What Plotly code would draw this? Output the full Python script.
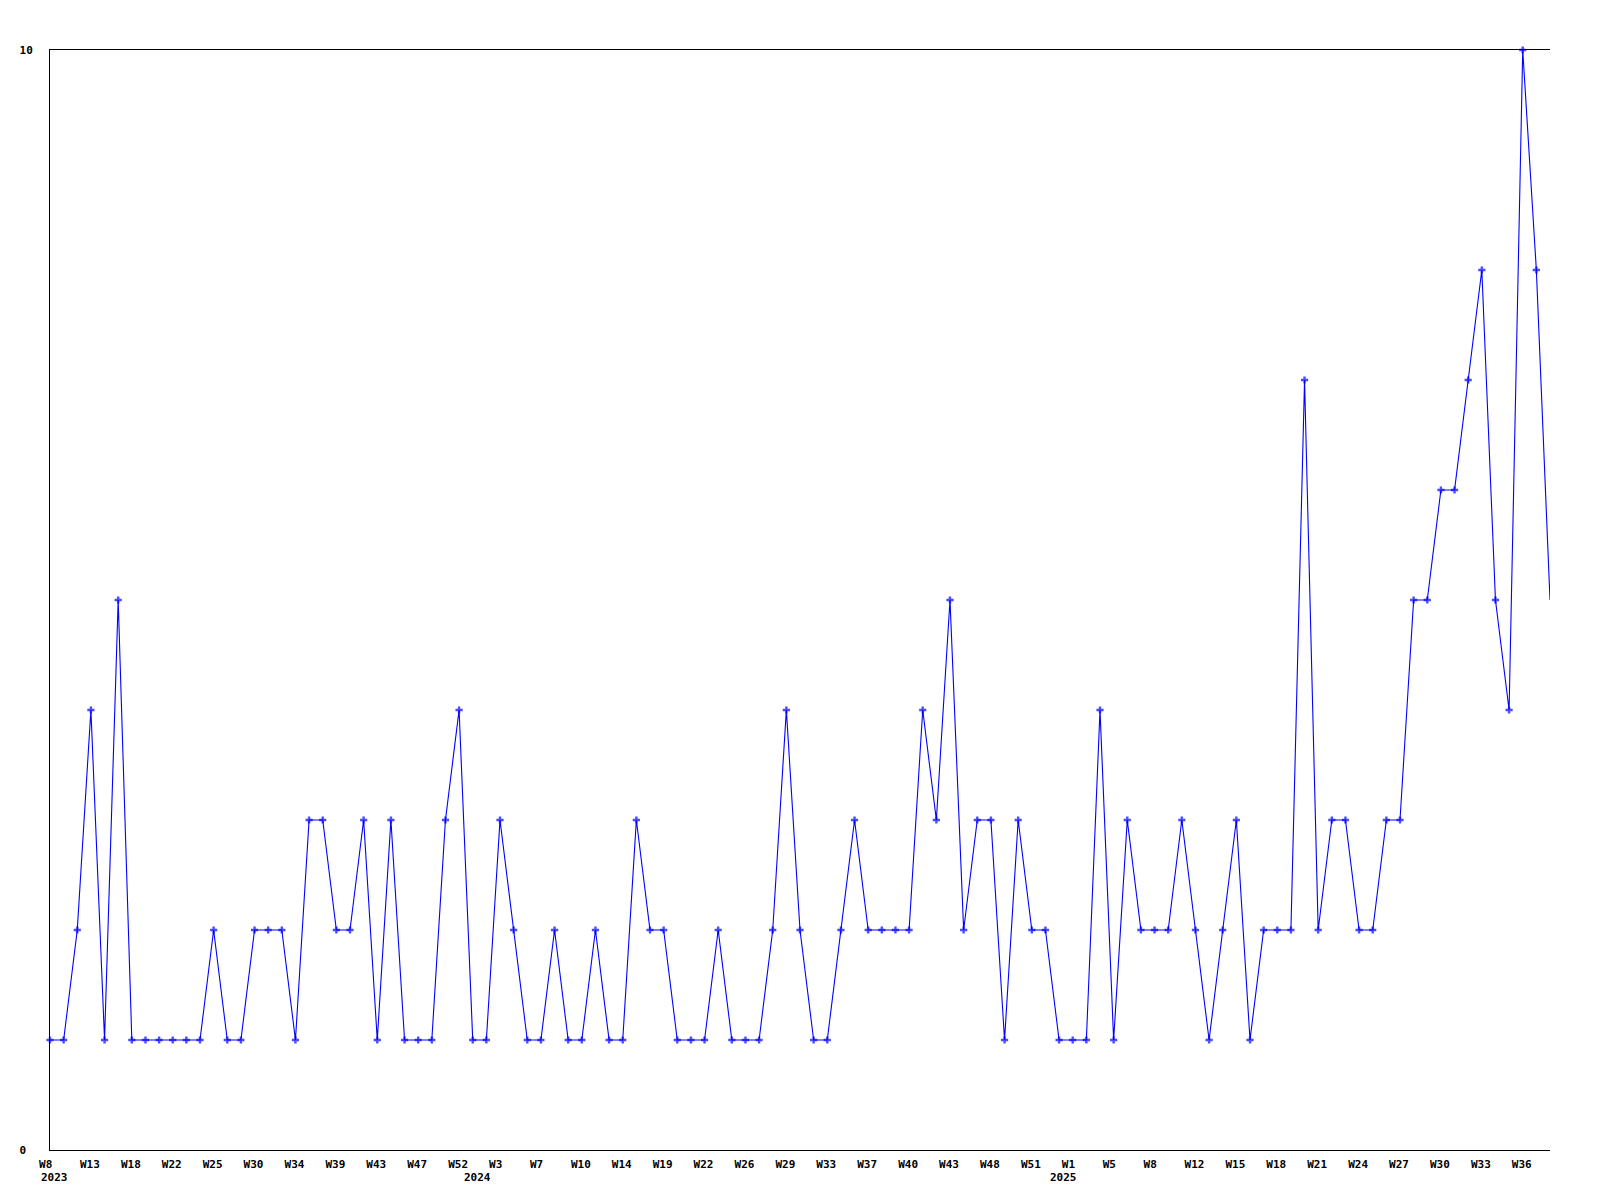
import plotly.graph_objects as go

# weekly counts, one per point (2023 W8 .. 2025 W38)
values = [1, 1, 2, 4, 1, 5, 1, 1, 1, 1, 1, 1, 2, 1, 1, 2, 2, 2, 1, 3, 3, 2, 2, 3,
          1, 3, 1, 1, 1, 3, 4, 1, 1, 3, 2, 1,
          1, 2, 1, 1, 2, 1, 1, 3, 2, 2, 1, 1, 1, 2, 1, 1, 1, 2, 4, 2, 1, 1, 2, 3,
          2, 2, 2, 2, 4, 3, 5, 2, 3, 3, 1, 3, 2, 2, 1,
          1, 1, 4, 1, 3, 2, 2, 2, 3, 2, 1, 2, 3, 1, 2, 2, 2, 7, 2, 3, 3, 2, 2, 3,
          3, 5, 5, 6, 6, 7, 8, 5, 4, 10, 8, 5]

week_labels = ["W8", "W13", "W18", "W22", "W25", "W30", "W34", "W39", "W43", "W47",
               "W52", "W3", "W7", "W10", "W14", "W19", "W22", "W26", "W29", "W33",
               "W37", "W40", "W43", "W48", "W51", "W1", "W5", "W8", "W12", "W15",
               "W18", "W21", "W24", "W27", "W30", "W33", "W36"]
label_step = 3

years = ["2023", "2024", "2025"]
year_start = [0, 31, 74]  # index of first point in each year

x = list(range(len(values)))
tickvals = x[::label_step][:len(week_labels)]
# pad to 3 chars so the monospaced labels line up left like the original
ticktext = [w.ljust(3, "\u00a0") for w in week_labels]

mono = dict(family="DejaVu Sans Mono", size=11, color="black", weight="bold")

# last point sits on the right edge without a marker
marker_sizes = [6] * (len(values) - 1) + [0]

fig = go.Figure()
fig.add_trace(go.Scatter(
    x=x, y=values,
    mode="lines+markers",
    line=dict(color="#0000ff", width=1.1),
    marker=dict(symbol="cross", size=marker_sizes, color="#0000ff",
                line=dict(width=0)),
    cliponaxis=False,
    hoverinfo="x+y",
))

for yr, idx in zip(years, year_start):
    fig.add_annotation(
        x=idx, xref="x", y=-0.025, yref="paper",
        text=yr, showarrow=False, xanchor="left", yanchor="middle",
        xshift=-11, font=mono,
    )

# page body has an 8px margin, so the figure is shifted a bit in the window
fig.update_layout(
    width=1584, height=1184,
    margin=dict(l=42, r=42, t=42, b=42),
    paper_bgcolor="white", plot_bgcolor="white",
    showlegend=False,
    font=mono,
)
fig.update_xaxes(
    range=[0, len(values) - 1],
    tickmode="array", tickvals=tickvals, ticktext=ticktext,
    tickangle=0, ticks="", ticklabelshift=-1, ticklabelstandoff=4,
    showgrid=False, zeroline=False,
    showline=True, linecolor="black", linewidth=1, mirror=True,
    tickfont=mono,
)
fig.update_yaxes(
    range=[0, 10],
    tickmode="array", tickvals=[0, 10], ticktext=["0\u00a0", "10"],
    ticks="", ticklabelstandoff=14,
    showgrid=False, zeroline=False,
    showline=True, linecolor="black", linewidth=1, mirror=False,
    tickfont=mono,
)

fig.write_html("out.html")
